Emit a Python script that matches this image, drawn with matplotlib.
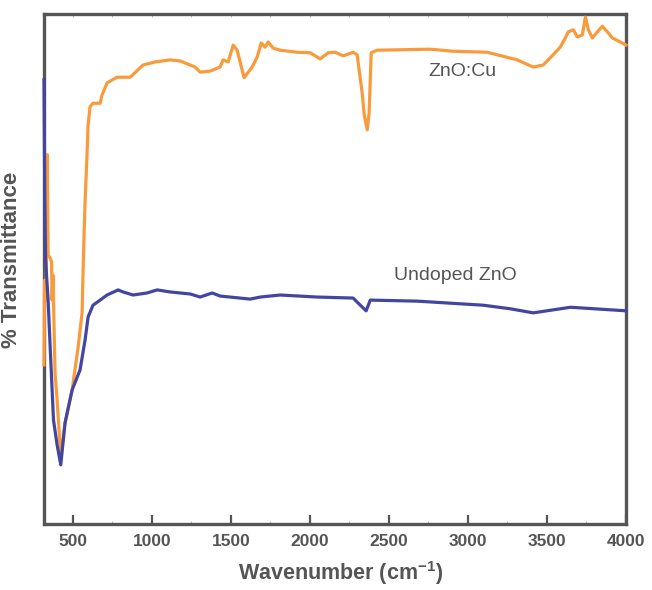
import matplotlib
matplotlib.use("Agg")
import matplotlib.pyplot as plt
from matplotlib.ticker import MultipleLocator, NullFormatter

plt.rcParams['font.family'] = ['Liberation Sans', 'DejaVu Sans']
plt.rcParams['mathtext.fontset'] = 'custom'
plt.rcParams['mathtext.rm'] = 'Liberation Sans'
plt.rcParams['mathtext.bf'] = 'Liberation Sans:bold'

# FTIR spectra: wavenumber (cm^-1) and transmittance (arbitrary %)
cu_wn = [318, 322, 331, 339, 344, 356, 366, 369, 375, 382, 388, 401, 424, 451,
         496, 534, 559, 567, 578, 589, 597, 609, 628, 654, 673, 685, 717, 780,
         863, 945, 1021, 1116, 1179, 1274, 1306, 1369, 1432, 1451, 1483, 1515,
         1540, 1584, 1635, 1667, 1692, 1717, 1736, 1768, 1812, 1920, 2002, 2065,
         2116, 2160, 2211, 2274, 2299, 2331, 2344, 2363, 2375, 2388, 2426, 2761,
         2907, 3122, 3312, 3413, 3476, 3539, 3584, 3616, 3635, 3667, 3692, 3724,
         3743, 3762, 3787, 3819, 3850, 3882, 3914, 3965, 4000]
cu_t = [31.2, 47.8, 43.9, 72.4, 52.7, 52.2, 51.4, 43.9, 48.8, 38.0, 29.6, 24.3,
        13.1, 19.8, 26.3, 34.7, 41.4, 51.8, 63.5, 71.4, 78.2, 81.8, 82.5, 82.5,
        82.5, 84.1, 86.5, 87.6, 87.6, 90.0, 90.6, 91.0, 90.8, 89.6, 88.6, 88.8,
        89.6, 91.0, 90.6, 93.9, 92.9, 87.5, 89.6, 91.6, 94.3, 93.5, 94.5, 93.3,
        92.9, 92.5, 92.4, 91.2, 92.4, 92.5, 91.8, 92.5, 92.0, 84.5, 80.2, 77.3,
        80.6, 92.4, 92.9, 93.1, 92.7, 92.5, 91.0, 89.6, 90.0, 92.0, 93.5, 95.3,
        96.5, 96.9, 95.5, 95.9, 99.4, 96.9, 95.3, 96.5, 97.6, 96.5, 95.3, 94.5,
        93.9]

zno_wn = [318, 323, 328, 344, 357, 378, 401, 424, 451, 496, 546, 578, 597, 628,
          673, 717, 787, 818, 882, 970, 1034, 1116, 1243, 1306, 1382, 1432, 1622,
          1686, 1812, 2046, 2274, 2306, 2356, 2382, 2679, 3097, 3268, 3413, 3649,
          4000]
zno_t = [87.1, 63.5, 51.8, 43.9, 34.7, 20.4, 15.5, 11.6, 19.8, 26.3, 30.2, 36.1,
         40.6, 42.9, 43.9, 44.9, 45.9, 45.5, 44.9, 45.3, 45.9, 45.5, 45.1, 44.5,
         45.3, 44.7, 44.1, 44.5, 44.9, 44.5, 44.3, 43.3, 41.8, 43.9, 43.7, 42.9,
         42.2, 41.4, 42.5, 41.8]

labels = ["ZnO:Cu", "Undoped ZnO"]
label_pos = [(2964, 88.8), (2919, 48.8)]

gray = '#555555'
orange = '#f99a3b'
blue = '#4346a0'

fig = plt.figure(figsize=(6.52, 5.90), dpi=100)
ax = fig.add_axes([44 / 652, 66 / 590, 582 / 652, 510 / 590])

ax.plot(cu_wn, cu_t, color=orange, lw=2.3, solid_joinstyle='round',
        zorder=3, clip_on=False)
ax.plot(zno_wn, zno_t, color=blue, lw=2.3, solid_joinstyle='round',
        zorder=3.1, clip_on=False)

for txt, (x, y) in zip(labels, label_pos):
    ax.text(x, y, txt, ha='center', va='center', fontsize=14, color=gray)

ax.set_xlim(318, 4000)
ax.set_ylim(0, 100)

for s in ax.spines.values():
    s.set_color(gray)
    s.set_linewidth(2.4)

ax.set_yticks([])
ax.xaxis.set_major_locator(MultipleLocator(500))
ax.xaxis.set_minor_locator(MultipleLocator(250))
ax.tick_params(axis='x', which='major', direction='in', length=6.5, width=1.6,
               color=gray, labelsize=12.5, labelcolor=gray, pad=7)
ax.tick_params(axis='x', which='minor', direction='in', length=2.5, width=0.8,
               color='#bbbbbb')
for lab in ax.get_xticklabels():
    lab.set_fontweight('bold')

top = ax.secondary_xaxis('top')
top.xaxis.set_major_locator(MultipleLocator(250))
top.xaxis.set_major_formatter(NullFormatter())
top.tick_params(direction='in', length=2.5, width=0.8, color='#bbbbbb')
top.spines['top'].set_visible(False)

ax.set_xlabel('Wavenumber (cm$^{\\mathbf{-1}}$)', fontsize=15.5, fontweight='bold',
              color=gray)
ax.xaxis.set_label_coords(0.509, -0.068)
ax.set_ylabel('% Transmittance', fontsize=16, fontweight='bold', color=gray)
ax.yaxis.set_label_coords(-0.038, 0.518)

fig.savefig('out.png', dpi=100)
